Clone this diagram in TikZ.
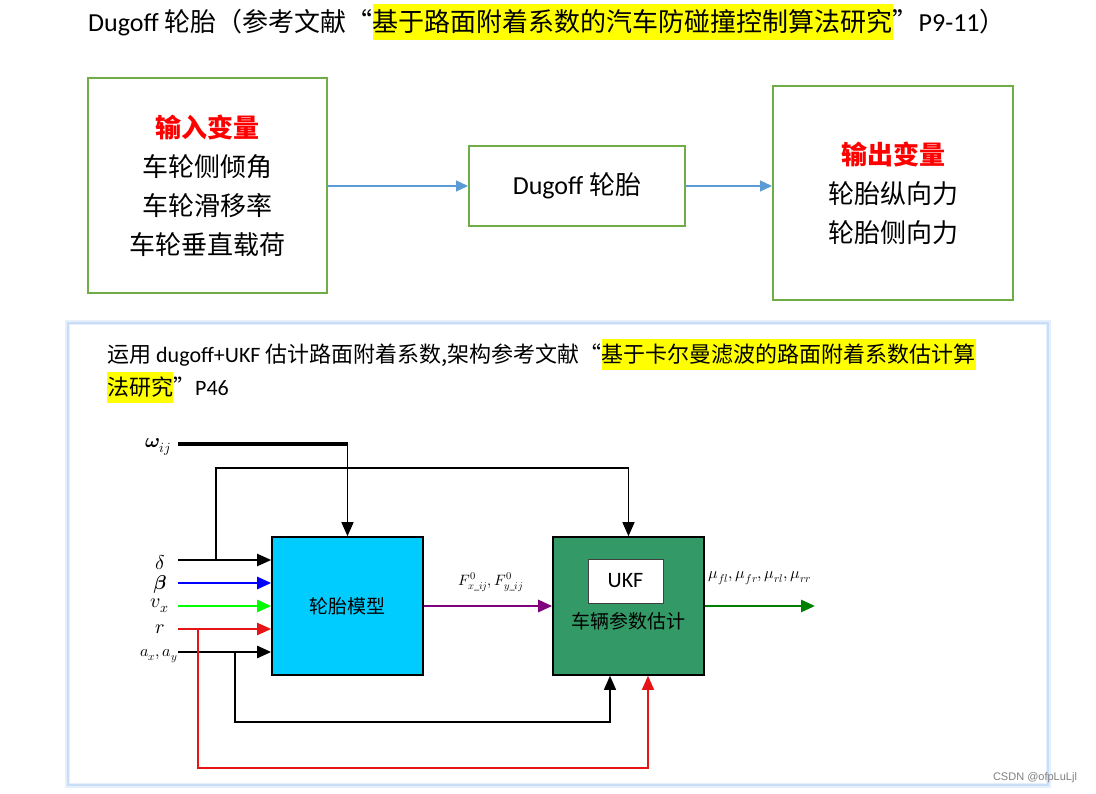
\documentclass[tikz,border=0pt]{standalone}
\usepackage{fontspec}
\usepackage{unicode-math}
\setmathfont{Latin Modern Math}
\setmainfont{Carlito}
\newfontfamily\cjk{Noto Sans CJK SC}
\newfontfamily\arialf{Liberation Sans}
\usetikzlibrary{arrows.meta}
\definecolor{gframe}{RGB}{112,173,71}
\definecolor{barrowc}{RGB}{91,155,213}
\definecolor{tirec}{RGB}{0,204,255}
\definecolor{ukfc}{RGB}{51,153,102}
\definecolor{purp}{RGB}{128,0,128}
\definecolor{dgreen}{RGB}{0,128,0}
\definecolor{lred}{RGB}{230,20,20}
\definecolor{glowa}{RGB}{230,240,252}
\definecolor{glowb}{RGB}{200,222,246}
\definecolor{hlyel}{RGB}{255,255,0}
\newcommand\hlt[1]{{\setlength{\fboxsep}{0pt}\colorbox{hlyel}{\rule[-0.3em]{0pt}{1.38em}#1}}}
\begin{document}
\begin{tikzpicture}[x=1pt,y=-1pt,
  gbox/.style={draw=gframe, line width=2pt, align=center, inner sep=0pt, font=\cjk\fontsize{26}{39}\selectfont},
  barrow/.style={draw=barrowc, line width=1.2pt, -{Triangle[length=12pt,width=11pt]}, color=barrowc},
  blk/.style={draw=black, line width=1.6pt, minimum width=151pt, minimum height=138pt, inner sep=0pt},
  ln/.style={line width=1.3pt},
  arr/.style={-{Triangle[length=14pt,width=12pt]}},
  lab/.style={inner sep=0pt, font=\fontsize{20}{22}\selectfont}
]
\useasboundingbox (0,0) rectangle (1096,794);
\fill[white] (0,0) rectangle (1096,794);

% title
\node[anchor=base west, inner sep=0pt, font=\fontsize{26}{30}\selectfont] (title) at (88,32)
  {Dugoff {\cjk 轮胎（参考文献“}\hlt{\cjk 基于路面附着系数的汽车防碰撞控制算法研究}{\cjk ”}P9-11{\cjk ）}};

% top boxes
\node[gbox, minimum width=239pt, minimum height=215pt] (inb) at (207.5,185.5)
  {{\color{red}\bfseries 输入变量}\\车轮侧倾角\\车轮滑移率\\车轮垂直载荷};
\node[gbox, minimum width=216pt, minimum height=80pt, font=\fontsize{26}{30}\selectfont] (dug) at (577,186)
  {Dugoff {\cjk 轮胎}};
\node[gbox, minimum width=240pt, minimum height=214pt] (outb) at (893,193)
  {{\color{red}\bfseries 输出变量}\\轮胎纵向力\\轮胎侧向力};
\draw[barrow] (inb.east |- dug.west) -- (dug.west);
\draw[barrow] (dug.east) -- (dug.east -| outb.west);

% panel
\draw[glowa, line width=6pt] (68,323) rectangle (1048,785);
\draw[glowb, line width=1.5pt] (68,323) rectangle (1048,785);
\fill[white] (70,325) rectangle (1046,783);

\node[anchor=base west, inner sep=0pt, font=\fontsize{22}{26}\selectfont] (l1) at (107,363)
  {{\cjk 运用} dugoff+UKF {\cjk 估计路面附着系数,架构参考文献“}\hlt{\cjk 基于卡尔曼滤波的路面附着系数估计算}};
\node[anchor=base west, inner sep=0pt, font=\fontsize{22}{26}\selectfont] (l2) at (107,396)
  {\hlt{\cjk 法研究}{\cjk ”}P46};

% blocks
\node[blk, fill=tirec, font=\cjk\fontsize{19}{22}\selectfont] (tire) at (347.5,606) {轮胎模型};
\node[blk, fill=ukfc] (ukf) at (628.5,606) {};
\node[draw=black!75, line width=0.8pt, fill=white, minimum width=75pt, minimum height=44pt, inner sep=0pt, font=\fontsize{22}{24}\selectfont] (ukfin) at (625.5,581) {UKF};
\node[inner sep=0pt, font=\cjk\fontsize{19}{22}\selectfont] (est) at (628,621) {车辆参数估计};

% labels
\node[lab] (lw) at (158,447) {$\symbfit{\omega}_{ij}$};
\node[lab] (ld) at (160,562) {$\delta$};
\node[lab] (lb) at (160,584) {$\symbfit{\beta}$};
\node[lab] (lv) at (160,606) {$v_x$};
\node[lab] (lr) at (160,629) {$r$};
\node[lab, font=\fontsize{16}{18}\selectfont] (la) at (159,656) {$a_x,a_y$};

\coordinate (sw) at (178,444);
\coordinate (sd) at (178,560);
\coordinate (sb) at (178,583);
\coordinate (sv) at (178,606);
\coordinate (sr) at (178,629);
\coordinate (sa) at (178,652);
\coordinate (wc) at (sw -| tire.north);

\draw[line width=3.4pt] (sw) -- ([xshift=0.8pt]wc);
\draw[ln, arr] (wc) -- (tire.north);
\draw[line width=2.2pt, arr] (sd) -- (sd -| tire.west);
\draw[line width=2.6pt, blue, arr] (sb) -- (sb -| tire.west);
\draw[line width=2.6pt, green, arr] (sv) -- (sv -| tire.west);
\draw[line width=2.2pt, lred, arr] (sr) -- (sr -| tire.west);
\draw[line width=2.4pt, arr] (sa) -- (sa -| tire.west);

% branches
\coordinate (bd) at (216,560);
\coordinate (bdt) at (216,468);
\draw[ln, arr] (bd) -- (bdt) -| (ukf.north);
\coordinate (br) at (198,629);
\coordinate (brb) at (198,768);
\draw[ln, lred, arr] (br) -- (brb) -| ([xshift=19.5pt]ukf.south);
\coordinate (ba) at (235,652);
\coordinate (bab) at (235,722);
\draw[ln, arr] (ba) -- (bab) -| ([xshift=-18.5pt]ukf.south);

% middle and output
\draw[line width=2.8pt, purp, arr] (tire.east) -- (ukf.west);
\node[inner sep=0pt, font=\fontsize{15}{17}\selectfont] (lf) at (491,582) {$F^{0}_{x\_ij}{,}\,F^{0}_{y\_ij}$};
\coordinate (out) at (815,606);
\draw[line width=2.8pt, dgreen, arr] (ukf.east) -- (out);
\node[inner sep=0pt, font=\fontsize{16}{18}\selectfont] (lm) at (760,578) {$\mu_{fl},\mu_{fr},\mu_{rl},\mu_{rr}$};

\node[inner sep=0pt, text=black!50, font=\arialf\fontsize{11}{12}\selectfont] (wm) at (1035,778) {CSDN @ofpLuLjl};
\end{tikzpicture}
\end{document}
